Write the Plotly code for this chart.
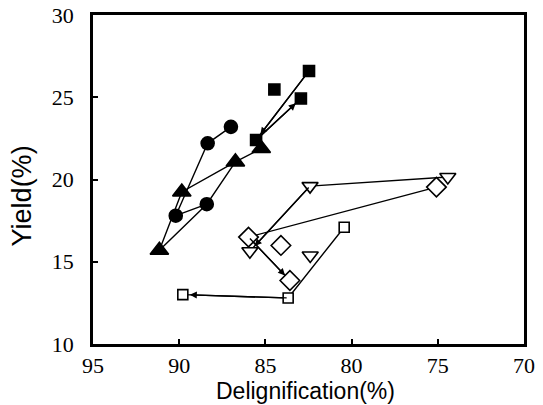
import plotly.graph_objects as go

# ---- data ----
fsq_x = [82.47, 84.48, 82.94, 85.54]       # filled squares
fsq_y = [26.6, 25.47, 24.92, 22.4]
fci_x = [87.0, 88.35, 88.4, 90.2]          # filled circles
fci_y = [23.2, 22.2, 18.5, 17.8]
ftr_x = [85.24, 86.74, 89.85, 91.15]       # filled triangles
ftr_y = [21.88, 21.07, 19.24, 15.7]
odi_x = [75.08, 85.98, 83.58, 84.1]        # open diamonds
odi_y = [19.54, 16.5, 13.86, 15.99]
otd_x = [74.42, 82.41, 85.9, 82.4]         # open down-triangles
otd_y = [20.15, 19.6, 15.64, 15.38]
osq_x = [80.43, 83.68, 89.79]              # open squares
osq_y = [17.1, 12.8, 13.0]

x_ticks = [95, 90, 85, 80, 75, 70]
y_ticks = [10, 15, 20, 25, 30]
x_title = "Delignification(%)"
y_title = "Yield(%)"

series = {
    "fsq": (fsq_x, fsq_y), "fci": (fci_x, fci_y), "ftr": (ftr_x, ftr_y),
    "odi": (odi_x, odi_y), "otd": (otd_x, otd_y), "osq": (osq_x, osq_y),
}
# connecting paths: (series, index) sequences; arrow at the end if flagged
paths = [
    ([("fsq", 0), ("fsq", 3), ("fsq", 2)], True),
    ([("fci", 0), ("fci", 1), ("fci", 3)], False),
    ([("ftr", 0), ("ftr", 1), ("ftr", 2), ("ftr", 3)], False),
    ([("ftr", 3), ("fci", 2), ("ftr", 1)], False),
    ([("fci", 3), ("fci", 2)], False),
    ([("otd", 0), ("otd", 1), ("otd", 2)], True),
    ([("odi", 0), ("odi", 1), ("odi", 2)], True),
    ([("osq", 0), ("osq", 1), ("osq", 2)], True),
]

fig = go.Figure()
annotations = []
for pts, arrow in paths:
    xs = [series[s][0][i] for s, i in pts]
    ys = [series[s][1][i] for s, i in pts]
    fig.add_trace(go.Scatter(x=xs, y=ys, mode="lines",
                             line=dict(color="black", width=1.4),
                             hoverinfo="skip", showlegend=False))
    if arrow:
        annotations.append(dict(x=xs[-1], y=ys[-1], ax=xs[-2], ay=ys[-2],
                                xref="x", yref="y", axref="x", ayref="y",
                                text="", showarrow=True, arrowhead=2,
                                arrowsize=1.0, arrowwidth=1.4, arrowcolor="black",
                                standoff=7))
# filled square: arrow also at middle point
annotations.append(dict(x=fsq_x[3], y=fsq_y[3], ax=fsq_x[0], ay=fsq_y[0],
                        xref="x", yref="y", axref="x", ayref="y", text="",
                        showarrow=True, arrowhead=2, arrowsize=1.0,
                        arrowwidth=1.4, arrowcolor="black", standoff=7))

# axis titles as annotations (placed like the reference)
annotations.append(dict(text=x_title, xref="paper", yref="paper",
                        x=0.493, y=-0.142, xanchor="center", yanchor="middle",
                        showarrow=False,
                        font=dict(family="Liberation Sans", size=23, color="black")))
annotations.append(dict(text=y_title, xref="paper", yref="paper",
                        x=-0.166, y=0.45, xanchor="center", yanchor="middle",
                        textangle=-90, showarrow=False,
                        font=dict(family="Liberation Sans", size=27, color="black")))

def add_markers(key, symbol, size, filled):
    xs, ys = series[key]
    fig.add_trace(go.Scatter(
        x=xs, y=ys, mode="markers", showlegend=False,
        marker=dict(symbol=symbol, size=size,
                    color="black" if filled else "white",
                    line=dict(color="black", width=1.6))))

add_markers("fsq", "square", 11, True)
add_markers("fci", "circle", 13, True)
add_markers("ftr", "triangle-up", 16, True)
add_markers("odi", "diamond", 15, False)
add_markers("otd", "triangle-down", 14, False)
add_markers("osq", "square", 10, False)

fig.update_layout(
    width=543, height=405,
    margin=dict(l=93, r=19, t=15, b=61),
    paper_bgcolor="white", plot_bgcolor="white",
    annotations=annotations,
)
fig.update_xaxes(
    range=[95, 70], tickvals=x_ticks, ticktext=[str(v) for v in x_ticks],
    automargin=False,
    showgrid=False, zeroline=False, showline=True, linecolor="black",
    linewidth=2.5, mirror=True, ticks="inside", ticklen=5, tickwidth=2,
    tickcolor="black", ticklabelstandoff=0,
    tickfont=dict(family="Liberation Serif", size=22, color="black"),
)
fig.update_yaxes(
    range=[10, 30], tickvals=y_ticks, ticktext=[str(v) for v in y_ticks],
    automargin=False,
    showgrid=False, zeroline=False, showline=True, linecolor="black",
    linewidth=2.5, mirror=True, ticks="inside", ticklen=5, tickwidth=2,
    tickcolor="black", ticklabelstandoff=12,
    tickfont=dict(family="Liberation Serif", size=22, color="black"),
)

fig.write_html("out.html", config={"displayModeBar": False},
               post_script="document.body.style.margin='0';document.body.style.overflow='hidden';")
